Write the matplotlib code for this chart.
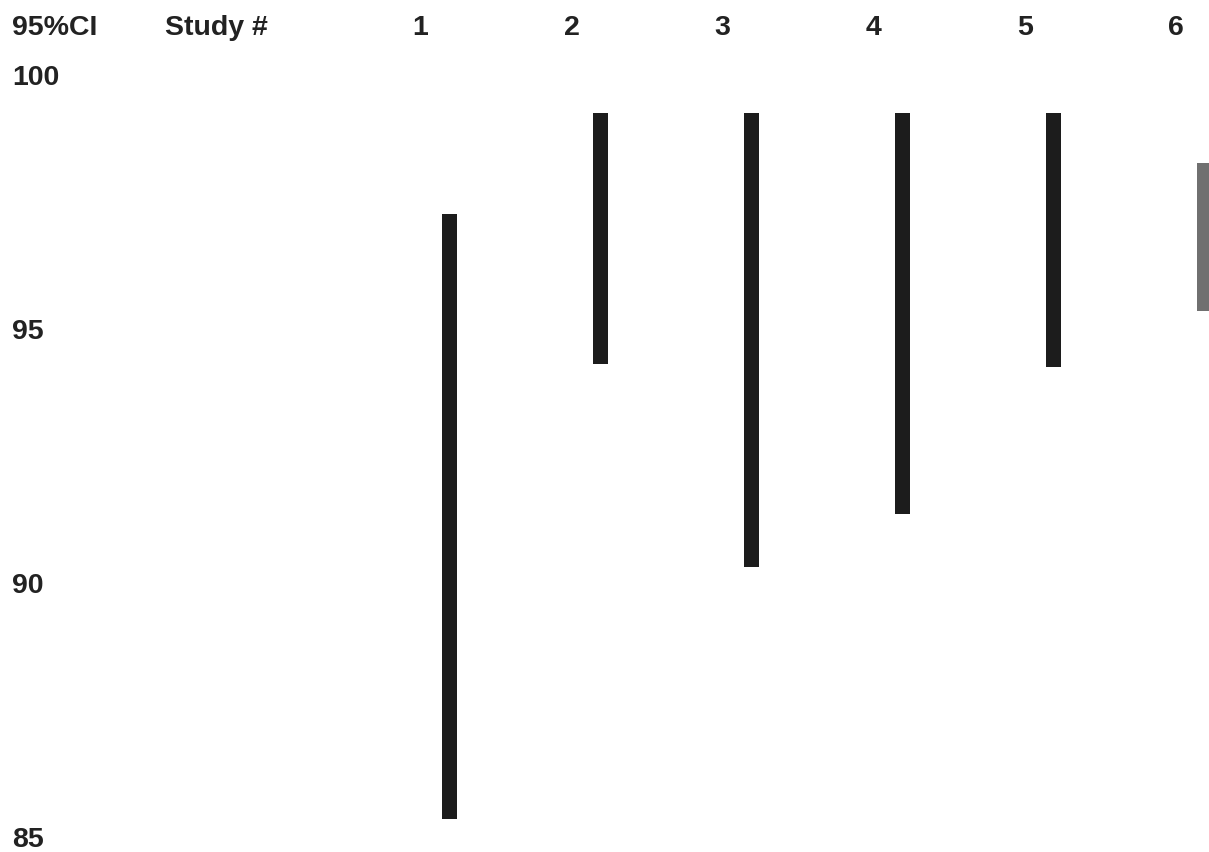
import matplotlib.pyplot as plt
from matplotlib.transforms import blended_transform_factory

plt.rcParams["font.family"] = ["Liberation Sans", "DejaVu Sans"]

studies = [1, 2, 3, 4, 5, 6]
ci_upper = [97.3, 99.3, 99.3, 99.3, 99.3, 98.3]
ci_lower = [85.4, 94.35, 90.35, 91.4, 94.3, 95.4]
bar_colors = ["#1c1c1c", "#1c1c1c", "#1c1c1c", "#1c1c1c", "#1c1c1c", "#707070"]
y_ticks = [100, 95, 90, 85]

W, H = 1209, 853
fig = plt.figure(figsize=(W / 100, H / 100), dpi=100)
ax = fig.add_axes([0, 0, 1, 1])

# pixel mapping: study 1 at x=449, 151.2 px per study; value 100 at y=78, 50.8 px per unit
px_per_study = 151.2
x0 = 449
ax.set_xlim(1 - x0 / px_per_study, 1 + (W - x0) / px_per_study)
px_per_unit = 50.8
ax.set_ylim(100 - (H - 78) / px_per_unit, 100 + 78 / px_per_unit)
ax.axis("off")

heights = [u - l for u, l in zip(ci_upper, ci_lower)]
ax.bar(studies, heights, bottom=ci_lower, width=15 / px_per_study,
       color=bar_colors, linewidth=0)

FS = 20.5
trans = blended_transform_factory(ax.transAxes, ax.transData)
for v in y_ticks:
    ax.text(12 / W, v, str(v), transform=trans, ha="left", va="center",
            fontsize=FS, fontweight="bold", color="#222222")

header_y = 1 - 28 / H
ax.text(12 / W, header_y, "95%CI", transform=ax.transAxes, ha="left", va="center",
        fontsize=FS, fontweight="bold", color="#222222")
ax.text(165 / W, header_y, "Study #", transform=ax.transAxes, ha="left", va="center",
        fontsize=FS, fontweight="bold", color="#222222")
trans_h = blended_transform_factory(ax.transData, ax.transAxes)
for s in studies:
    ax.text(s - 0.19, header_y, str(s), transform=trans_h, ha="center", va="center",
            fontsize=FS, fontweight="bold", color="#222222")

fig.savefig("out.png", dpi=100)
